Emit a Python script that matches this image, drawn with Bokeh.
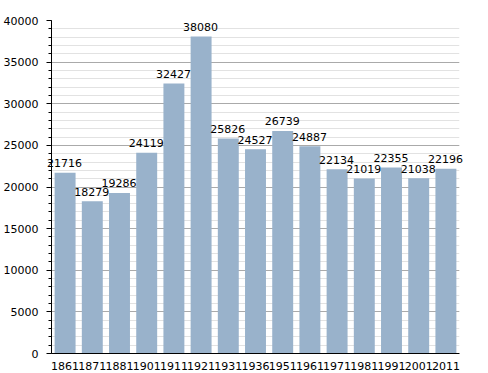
from bokeh.plotting import figure
from bokeh.models import ColumnDataSource, SingleIntervalTicker, Range1d, LabelSet
from bokeh.core.properties import value
from bokeh.embed import file_html
from bokeh.resources import INLINE

try:
    from bokeh.models import HTMLLabelSet as LabelCls
except Exception:
    LabelCls = LabelSet

years = ["1861", "1871", "1881", "1901", "1911", "1921", "1931", "1936",
         "1951", "1961", "1971", "1981", "1991", "2001", "2011"]
population = [21716, 18279, 19286, 24119, 32427, 38080, 25826, 24527,
              26739, 24887, 22134, 21019, 22355, 21038, 22196]

src = ColumnDataSource(dict(x=years, y=population, t=[str(v) for v in population]))

p = figure(x_range=years, y_range=Range1d(0, 40000), width=488, height=373,
           output_backend="svg", toolbar_location=None,
           min_border_left=50, min_border_right=29, min_border_top=20, min_border_bottom=20)
p.outline_line_color = None
p.background_fill_color = "white"

p.vbar(x="x", top="y", width=0.77, source=src, fill_color="#99b2cb", line_color=None)

labels = LabelCls(x="x", y="y", text="t", source=src, text_align="center",
                  text_baseline="bottom", y_offset=2, text_font=value("DejaVu Sans"),
                  text_font_size=value("11px"), text_color="black")
p.add_layout(labels)

p.yaxis.ticker = SingleIntervalTicker(interval=5000, num_minor_ticks=5)
p.ygrid.ticker = p.yaxis.ticker
p.ygrid.grid_line_color = "#aaaaaa"
p.ygrid.minor_grid_line_color = "#e2e2e2"
p.xgrid.grid_line_color = None

for ax in (p.xaxis[0], p.yaxis[0]):
    ax.axis_line_color = "black"
    ax.major_label_text_font = "DejaVu Sans"
    ax.major_label_text_font_size = "11px"
    ax.major_label_text_color = "black"

p.yaxis.major_tick_out = 5
p.yaxis.major_tick_in = 0
p.yaxis.minor_tick_out = 3
p.yaxis.minor_tick_in = 0
p.yaxis.major_label_standoff = 8
p.yaxis.formatter.use_scientific = False

p.xaxis.major_tick_line_color = None
p.xaxis.minor_tick_line_color = None
p.xaxis.major_label_standoff = 2

open("out.html", "w").write(file_html(p, INLINE))
